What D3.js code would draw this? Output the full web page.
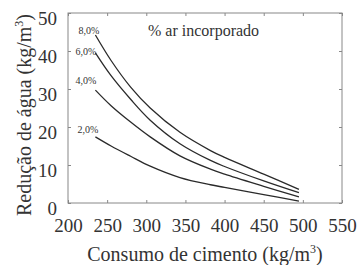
<!DOCTYPE html>
<html>
<head>
<meta charset="utf-8">
<script src="https://cdn.jsdelivr.net/npm/d3@7"></script>
<style>
  body { margin: 0; background: #fff; }
  svg, svg text, svg tspan { font-family: 'Liberation Serif' !important; }
</style>
</head>
<body>
<script>
// cement consumption (kg/m3) and water reduction (kg/m3) for each air content
var cement = [235, 255, 280, 305, 343, 382, 400, 450, 495];
var ar8 = [44.2, 37.5, 30.5, 25.0, 18.6, 13.8, 12.0, 7.6, 3.6];
var ar6 = [39.5, 33.5, 27.3, 21.8, 15.6, 11.2, 9.6, 5.8, 2.7];
var ar4 = [29.7, 25.6, 21.3, 17.4, 12.4, 8.9, 7.6, 4.4, 1.6];
var ar2 = [17.4, 15.0, 12.3, 9.7, 6.7, 4.8, 4.1, 2.2, 0.5];
var seriesNames = ["8,0%", "6,0%", "4,0%", "2,0%"];
var xTicks = [200, 250, 300, 350, 400, 450, 500, 550];
var yTicks = [0, 10, 20, 30, 40, 50];

var width = 361, height = 265;
var margin = {top: 13, right: 19, bottom: 62, left: 68};
var plot_w = width - margin.left - margin.right,
    plot_h = height - margin.top - margin.bottom;

var svg = d3.select("body").append("svg")
    .attr("width", width)
    .attr("height", height)
    .style("display", "block");

var g = svg.append("g")
    .attr("transform", "translate(" + margin.left + "," + margin.top + ")");

var x = d3.scaleLinear().domain([200, 550]).range([0, plot_w]);
var y = d3.scaleLinear().domain([0, 50]).range([plot_h, 0]);

// inward ticks on all four sides
function styleAxis(sel) {
    sel.attr("font-size", 19).attr("font-family", null);
    sel.select(".domain").remove();
    sel.selectAll(".tick line").attr("stroke", "#888");
    sel.selectAll(".tick text").attr("fill", "#333");
}

g.append("g").attr("transform", "translate(0," + plot_h + ")")
    .call(d3.axisBottom(x).tickValues(xTicks).tickSize(-3).tickPadding(29).tickFormat(d3.format("d")))
    .call(styleAxis)
    .selectAll("text").attr("dy", "0");

g.append("g")
    .call(d3.axisTop(x).tickValues(xTicks).tickSize(-3).tickFormat(""))
    .call(styleAxis);

g.append("g")
    .call(d3.axisLeft(y).tickValues(yTicks).tickSize(-3).tickPadding(11).tickFormat(d3.format("d")))
    .call(styleAxis)
    .selectAll("text").attr("dy", "0.6em");

g.append("g").attr("transform", "translate(" + plot_w + ",0)")
    .call(d3.axisRight(y).tickValues(yTicks).tickSize(-3).tickFormat(""))
    .call(styleAxis);

g.append("rect")
    .attr("width", plot_w).attr("height", plot_h)
    .attr("fill", "none").attr("stroke", "#888").attr("stroke-width", 1);

// curves
var line = d3.line()
    .x(function(d) { return x(d[0]); })
    .y(function(d) { return y(d[1]); })
    .curve(d3.curveCatmullRom);

var allSeries = [ar8, ar6, ar4, ar2];
var labelOffset = [[4, -1], [1, 2], [1, -6], [3, -4]];

allSeries.forEach(function(vals, i) {
    var pts = cement.map(function(c, j) { return [c, vals[j]]; });
    g.append("path")
        .datum(pts)
        .attr("fill", "none")
        .attr("stroke", "#2a2a2a")
        .attr("stroke-width", 1.3)
        .attr("d", line);

    g.append("text")
        .attr("x", x(cement[0]) + labelOffset[i][0])
        .attr("y", y(vals[0]) + labelOffset[i][1])
        .attr("text-anchor", "end")
        .attr("font-size", 10)
        .attr("fill", "#333")
        .text(seriesNames[i]);
});

g.append("text")
    .attr("x", 80).attr("y", 23)
    .attr("font-size", 16)
    .attr("fill", "#333")
    .text("% ar incorporado");

// axis titles
var xt = svg.append("text")
    .attr("x", margin.left + plot_w / 2)
    .attr("y", 261)
    .attr("text-anchor", "middle")
    .attr("font-size", 20)
    .attr("fill", "#333");
xt.append("tspan").text("Consumo de cimento (kg/m");
xt.append("tspan").attr("font-size", 12).attr("dy", -8).text("3");
xt.append("tspan").attr("dy", 8).text(")");

var yt = svg.append("text")
    .attr("transform", "translate(31,115) rotate(-90)")
    .attr("text-anchor", "middle")
    .attr("font-size", 20)
    .attr("fill", "#333");
yt.append("tspan").text("Redução de água (kg/m");
yt.append("tspan").attr("font-size", 12).attr("dy", -8).text("3");
yt.append("tspan").attr("dy", 8).text(")");

svg.selectAll("text, tspan").attr("font-family", "Liberation Serif").style("font-family", "'Liberation Serif'");
</script>
</body>
</html>
